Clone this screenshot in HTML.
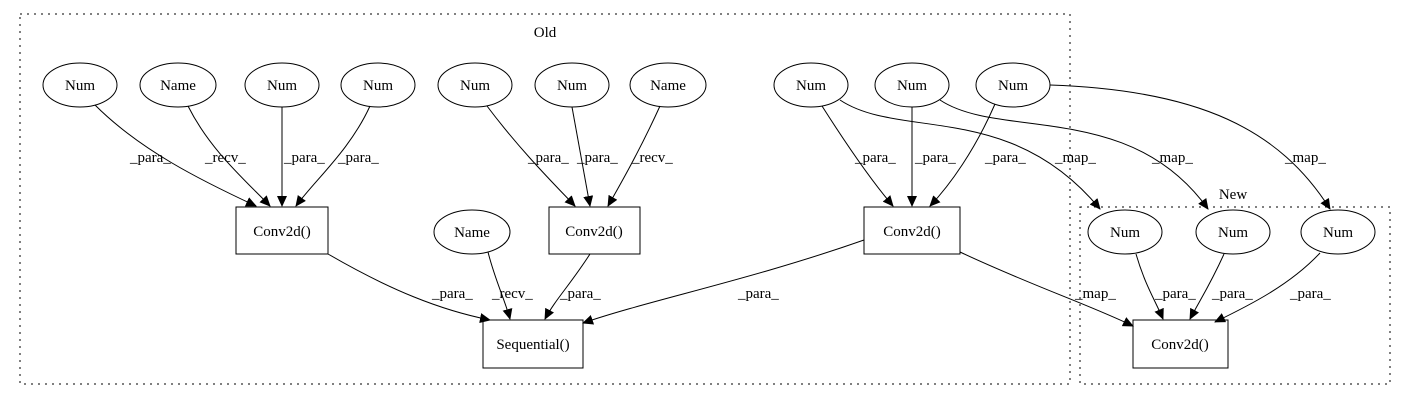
<!DOCTYPE html>
<html><head><style>body{margin:0;background:#fff}svg{display:block}text{font-family:"Liberation Serif",serif;font-size:15px}</style></head><body>
<svg width="1405" height="400" viewBox="0 0 1405 400" xmlns="http://www.w3.org/2000/svg">
<defs><marker id="a" markerWidth="11" markerHeight="10" refX="10" refY="5" orient="auto" markerUnits="userSpaceOnUse"><path d="M0,0 L11,5 L0,10 z" fill="#000"/></marker></defs>
<g fill="none" stroke="#000" stroke-dasharray="2,5">
<rect x="20" y="14" width="1050" height="370"/>
<rect x="1080" y="207" width="310" height="177"/>
</g>
<text x="545" y="37" text-anchor="middle">Old</text>
<text x="1233" y="199" text-anchor="middle">New</text>
<g fill="#fff" stroke="#000">
<ellipse cx="80" cy="85" rx="37" ry="22"/>
<ellipse cx="178" cy="85" rx="38" ry="22"/>
<ellipse cx="282" cy="85" rx="37" ry="22"/>
<ellipse cx="378" cy="85" rx="37" ry="22"/>
<ellipse cx="475" cy="85" rx="37" ry="22"/>
<ellipse cx="572" cy="85" rx="37" ry="22"/>
<ellipse cx="668" cy="85" rx="38" ry="22"/>
<ellipse cx="811" cy="85" rx="37" ry="22"/>
<ellipse cx="912" cy="85" rx="37" ry="22"/>
<ellipse cx="1013" cy="85" rx="37" ry="22"/>
<ellipse cx="472" cy="232" rx="38" ry="22"/>
<ellipse cx="1125" cy="232" rx="37" ry="22"/>
<ellipse cx="1233" cy="232" rx="37" ry="22"/>
<ellipse cx="1338" cy="232" rx="37" ry="22"/>
<rect x="236" y="207" width="92" height="47"/>
<rect x="549" y="207" width="91" height="47"/>
<rect x="864" y="207" width="96" height="47"/>
<rect x="483" y="320" width="100" height="48"/>
<rect x="1133" y="320" width="95" height="48"/>
</g>
<g text-anchor="middle">
<text x="80" y="90">Num</text><text x="178" y="90">Name</text><text x="282" y="90">Num</text><text x="378" y="90">Num</text>
<text x="475" y="90">Num</text><text x="572" y="90">Num</text><text x="668" y="90">Name</text>
<text x="811" y="90">Num</text><text x="912" y="90">Num</text><text x="1013" y="90">Num</text>
<text x="472" y="237">Name</text><text x="1125" y="237">Num</text><text x="1233" y="237">Num</text><text x="1338" y="237">Num</text>
<text x="282" y="236">Conv2d()</text><text x="594" y="236">Conv2d()</text><text x="912" y="236">Conv2d()</text>
<text x="533" y="349">Sequential()</text><text x="1180" y="349">Conv2d()</text>
</g>
<g fill="none" stroke="#000" marker-end="url(#a)">
<path d="M95,105 C140,150 200,180 256,206"/>
<path d="M188,106 C210,150 245,180 270,206"/>
<path d="M282,107 L282,206"/>
<path d="M370,106 C350,150 315,180 296,206"/>
<path d="M487,106 C520,150 555,185 575,206"/>
<path d="M572,107 L590,206"/>
<path d="M660,106 C640,150 620,185 608,206"/>
<path d="M822,106 C850,150 875,185 893,206"/>
<path d="M912,107 L912,206"/>
<path d="M995,104 C975,150 950,185 930,206"/>
<path d="M840,100 C900,140 1010,100 1100,209"/>
<path d="M940,100 C1000,140 1130,100 1208,209"/>
<path d="M1050,85 C1200,90 1280,130 1330,209"/>
<path d="M328,254 C390,290 440,310 490,320"/>
<path d="M488,252 C495,280 505,300 510,319"/>
<path d="M590,254 C570,285 555,300 545,319"/>
<path d="M864,240 C750,280 650,300 583,323"/>
<path d="M960,252 C1030,285 1090,305 1133,326"/>
<path d="M1136,254 C1145,285 1155,300 1163,319"/>
<path d="M1224,254 C1210,285 1200,300 1190,319"/>
<path d="M1320,253 C1290,285 1250,305 1215,322"/>
</g>
<g>
<text x="130" y="162">_para_</text><text x="205" y="162">_recv_</text><text x="284" y="162">_para_</text><text x="338" y="162">_para_</text>
<text x="528" y="162">_para_</text><text x="577" y="162">_para_</text><text x="632" y="162">_recv_</text>
<text x="855" y="162">_para_</text><text x="915" y="162">_para_</text><text x="985" y="162">_para_</text>
<text x="1055" y="162">_map_</text><text x="1152" y="162">_map_</text><text x="1285" y="162">_map_</text>
<text x="432" y="298">_para_</text><text x="492" y="298">_recv_</text><text x="560" y="298">_para_</text>
<text x="738" y="298">_para_</text><text x="1075" y="298">_map_</text>
<text x="1155" y="298">_para_</text><text x="1212" y="298">_para_</text><text x="1290" y="298">_para_</text>
</g>
</svg>
</body></html>
